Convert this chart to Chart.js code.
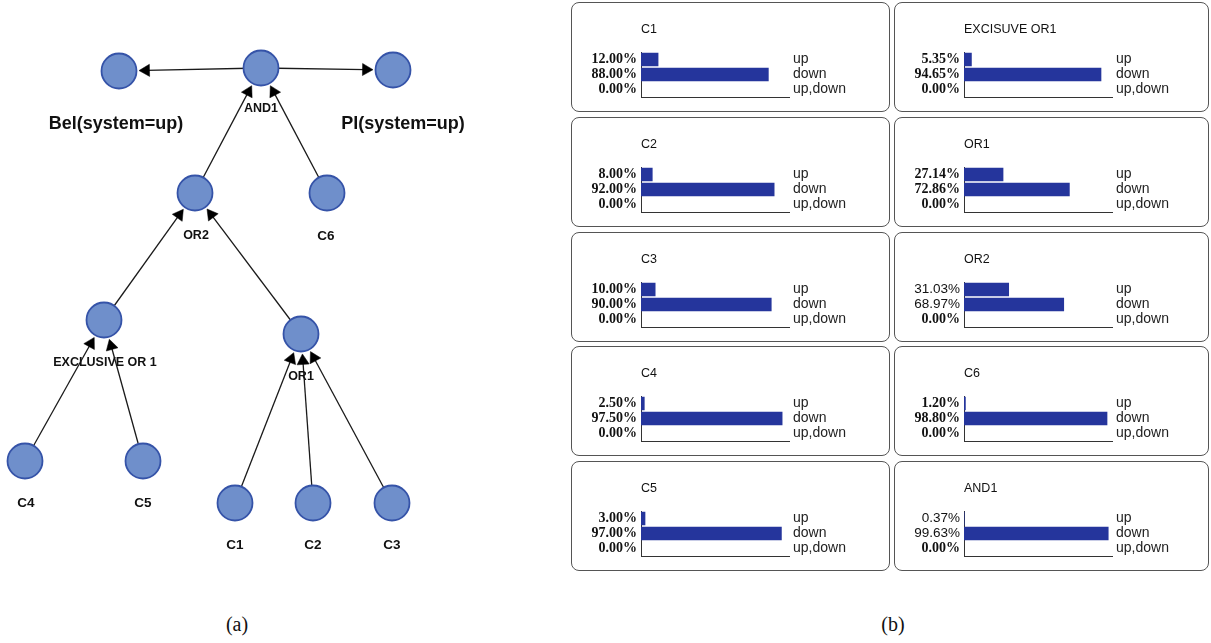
<!DOCTYPE html>
<html><head><meta charset="utf-8">
<script src="https://cdn.jsdelivr.net/npm/chart.js@4.4.0/dist/chart.umd.min.js"></script>
<style>
html,body{margin:0;padding:0;background:#fff;width:1211px;height:643px;overflow:hidden;position:relative}
canvas{position:absolute}
.box{position:absolute;box-sizing:border-box;border:1.5px solid #555;border-radius:8px;pointer-events:none}
.cap{position:absolute;font-family:'Liberation Serif',serif;font-size:20px;color:#111;transform:translate(-50%,-50%);white-space:nowrap}
</style></head><body>
<canvas id="net" width="560" height="600" style="left:0;top:0"></canvas>
<div class="cap" style="left:237px;top:624px">(a)</div>
<div class="cap" style="left:893px;top:624px">(b)</div>
<div id="panels"></div>
<script>
// ---------- (a) network data ----------
const nodeNames = ['Bel','AND1','Pl','OR2','C6','EXOR1','OR1','C4','C5','C1','C2','C3'];
const nodeX = [119, 261, 393, 195, 327, 104, 301, 25, 143, 235, 313, 392];
const nodeY = [71, 68, 70, 193, 193, 320, 334, 461, 461, 503, 503, 503];
const nodeLabels = ['Bel(system=up)','AND1','Pl(system=up)','OR2','C6','EXCLUSIVE OR 1','OR1','C4','C5','C1','C2','C3'];
const labelX = [116, 261, 403, 196, 326, 105, 301, 26, 143, 235, 313, 392];
const labelY = [124, 109, 124, 236, 236, 363, 377, 503, 503, 545, 545, 545];
const edgeFrom = ['AND1','AND1','OR2','C6','EXOR1','OR1','C4','C5','C1','C2','C3'];
const edgeTo   = ['Bel','Pl','AND1','AND1','OR2','OR2','EXOR1','EXOR1','OR1','OR1','OR1'];

// ---------- (b) panel data ----------
const panelTitles = ['C1','EXCISUVE OR1','C2','OR1','C3','OR2','C4','C6','C5','AND1'];
const states = ['up','down','up,down'];
const upPct   = [12.00, 5.35, 8.00, 27.14, 10.00, 31.03, 2.50, 1.20, 3.00, 0.37];
const downPct = [88.00, 94.65, 92.00, 72.86, 90.00, 68.97, 97.50, 98.80, 97.00, 99.63];
const bothPct = [0.00, 0.00, 0.00, 0.00, 0.00, 0.00, 0.00, 0.00, 0.00, 0.00];
const plainWeightPanels = ['OR2','AND1'];

Chart.defaults.font.family = "'Liberation Sans', Arial, sans-serif";

// ---------- build network ----------
const R = 17.5, TIP_GAP = 2.5, TRI_R = 7;
const idx = n => nodeNames.indexOf(n);
const arrowPts = [], arrowRot = [], edgeSets = [];
edgeFrom.forEach((f, k) => {
  const a = idx(f), b = idx(edgeTo[k]);
  const dx = nodeX[b] - nodeX[a], dy = nodeY[b] - nodeY[a];
  const L = Math.hypot(dx, dy), ux = dx / L, uy = dy / L;
  const tipX = nodeX[b] - ux * (R + TIP_GAP), tipY = nodeY[b] - uy * (R + TIP_GAP);
  const cx = tipX - ux * TRI_R, cy = tipY - uy * TRI_R;
  arrowPts.push({x: cx, y: cy});
  arrowRot.push(Math.atan2(ux, -uy) * 180 / Math.PI);
  edgeSets.push({
    data: [{x: nodeX[a], y: nodeY[a]}, {x: cx, y: cy}],
    showLine: true, borderColor: '#1a1a1a', borderWidth: 1.3, pointRadius: 0, clip: false
  });
});
const labelFonts = nodeLabels.map(t =>
  t.includes('system') ? "bold 18px 'Liberation Sans'" :
  (/^C\d$/.test(t) ? "bold 13.5px 'Liberation Sans'" : "bold 12.5px 'Liberation Sans'"));

const netLabels = {
  id: 'netLabels',
  afterDatasetsDraw(chart) {
    const {ctx, scales: {x, y}} = chart;
    ctx.save();
    ctx.fillStyle = '#111';
    ctx.textAlign = 'center';
    ctx.textBaseline = 'middle';
    nodeLabels.forEach((t, i) => {
      ctx.font = labelFonts[i];
      ctx.fillText(t, x.getPixelForValue(labelX[i]), y.getPixelForValue(labelY[i]));
    });
    ctx.restore();
  }
};

new Chart(document.getElementById('net'), {
  type: 'scatter',
  data: {datasets: [
    {data: nodeX.map((v, i) => ({x: v, y: nodeY[i]})), pointRadius: R, pointHoverRadius: R,
     backgroundColor: '#6F8FCB', borderColor: '#3553A8', borderWidth: 1.8, clip: false},
    {data: arrowPts, pointStyle: 'triangle', rotation: arrowRot, pointRadius: TRI_R, pointHoverRadius: TRI_R,
     backgroundColor: '#000', borderColor: '#000', borderWidth: 0.5, clip: false},
    ...edgeSets
  ]},
  options: {
    responsive: false, animation: false, events: [],
    layout: {padding: 0, autoPadding: false},
    plugins: {legend: {display: false}, tooltip: {enabled: false}},
    scales: {
      x: {type: 'linear', min: 0, max: 560, display: false},
      y: {type: 'linear', min: 0, max: 600, reverse: true, display: false}
    }
  },
  plugins: [netLabels]
});

// ---------- build panels ----------
const colLeft = [571, 894], colWidth = [319, 315];
const rowTop0 = 2, rowStep = 114.8, panelH = 110;
const host = document.getElementById('panels');

const panelTitle = {
  id: 'panelTitle',
  afterDraw(chart, args, opts) {
    const {ctx, chartArea} = chart;
    ctx.save();
    ctx.font = "12.5px 'Liberation Sans'";
    ctx.fillStyle = '#111';
    ctx.textBaseline = 'middle';
    ctx.textAlign = 'left';
    ctx.fillText(opts.text, chartArea.left, 28);
    ctx.restore();
  }
};

panelTitles.forEach((title, i) => {
  const col = i % 2, row = Math.floor(i / 2);
  const left = colLeft[col], top = Math.round(rowTop0 + row * rowStep), w = colWidth[col];
  const cv = document.createElement('canvas');
  cv.width = w; cv.height = panelH;
  cv.style.left = left + 'px'; cv.style.top = top + 'px';
  host.appendChild(cv);
  const box = document.createElement('div');
  box.className = 'box';
  box.style.left = left + 'px'; box.style.top = top + 'px';
  box.style.width = w + 'px'; box.style.height = panelH + 'px';
  host.appendChild(box);

  const vals = [upPct[i], downPct[i], bothPct[i]];
  const plain = plainWeightPanels.includes(title);
  new Chart(cv, {
    type: 'bar',
    data: {labels: states, datasets: [{
      data: vals, backgroundColor: '#25359C', borderWidth: 0,
      barPercentage: 0.9, categoryPercentage: 1
    }]},
    options: {
      indexAxis: 'y', responsive: false, animation: false, events: [],
      layout: {padding: {top: 50, bottom: 15, left: 0, right: 0}},
      plugins: {legend: {display: false}, tooltip: {enabled: false}, panelTitle: {text: title}},
      scales: {
        x: {min: 0, max: 102, grid: {display: false, drawTicks: false}, ticks: {display: false},
            border: {display: true, color: '#333', width: 1},
            afterFit: s => { s.height = 0; }},
        y: {position: 'left', grid: {display: false, drawTicks: false},
            border: {display: true, color: '#333', width: 1},
            ticks: {padding: 4, color: '#111', autoSkip: false,
              callback: (v, k) => vals[k].toFixed(2) + '%',
              font: c => (plain && c.index < 2)
                ? {family: "'Liberation Sans'", size: 13.5, weight: 'normal'}
                : {family: "'Liberation Serif'", size: 14, weight: 'bold'}},
            afterFit: s => { s.width = 70; }},
        y2: {type: 'category', axis: 'y', position: 'right', labels: states,
             grid: {display: false, drawTicks: false}, border: {display: false},
             ticks: {padding: 4, color: '#222', autoSkip: false, font: {size: 14}},
             afterFit: s => { s.width = w - 218; }}
      }
    },
    plugins: [panelTitle]
  });
});
</script>
</body></html>
